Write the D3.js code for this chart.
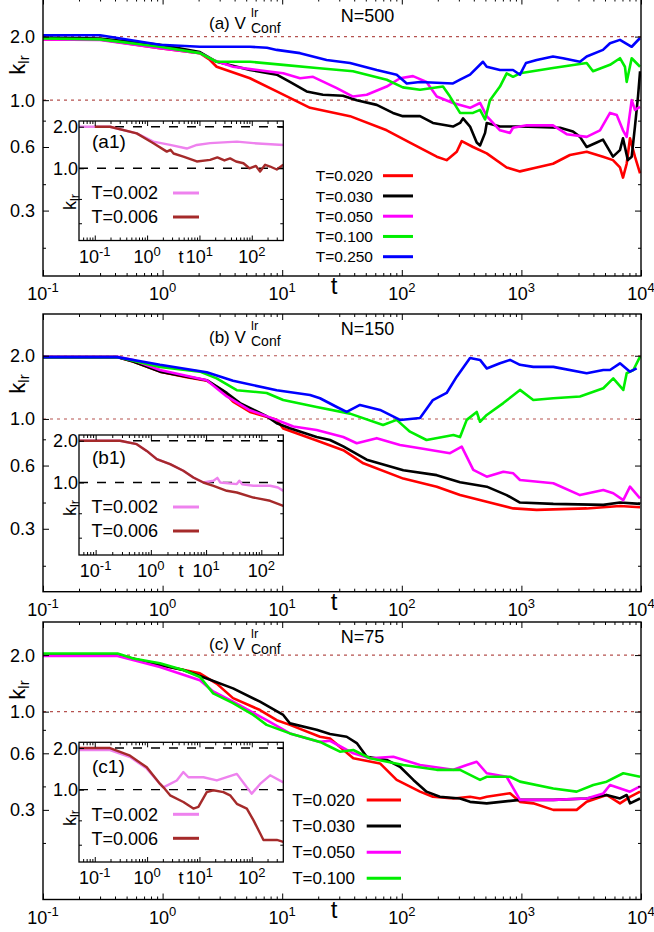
<!DOCTYPE html>
<html><head><meta charset="utf-8">
<script src="https://cdn.jsdelivr.net/npm/d3@7"></script>
<style>body{margin:0;background:#fff}svg{display:block}text{font-family:"Liberation Sans",Arial,Helvetica,sans-serif;fill:#000}</style>
</head><body>
<script>
// ---------------- DATA ----------------
const tempsAB = ["T=0.020","T=0.030","T=0.050","T=0.100","T=0.250"];
const tempsC  = ["T=0.020","T=0.030","T=0.050","T=0.100"];
const tempsInset = ["T=0.002","T=0.006"];
const panelTags = ["(a)","(b)","(c)"];
const insetTags = ["(a1)","(b1)","(c1)"];
const sizeLabels = ["N=500","N=150","N=75"];
const xTickVals = [0.1,1,10,100,1000,10000];
const xTickExp  = ["-1","0","1","2","3","4"];
const insetXTickVals = [0.1,1,10,100];
const insetXTickExp  = ["-1","0","1","2"];
const yTickVals = [0.3,0.6,1.0,2.0];
const yTickText = ["0.3","0.6","1.0","2.0"];
const yMinorVals = [0.2,0.4,0.8];
const insetYTickVals = [1.0,2.0];
const insetYTickText = ["1.0","2.0"];
const insetYMinorVals = [0.4,0.6];
const refLevels = [1.0,2.0];

// panel (a) N=500
const a_T020 = [[0.1,1.94],[0.3,1.94],[0.95,1.76],[2.05,1.67],[2.49,1.55],[2.83,1.44],[5.38,1.27],[9.0,1.10],[17.1,0.92],[36.9,0.84],[74.8,0.72],[117,0.63],[196,0.54],[237,0.52],[288,0.57],[317,0.64],[394,0.60],[513,0.56],[753,0.48],[973,0.46],[1342,0.48],[1837,0.50],[2546,0.55],[3515,0.57],[4810,0.54],[5830,0.52],[6670,0.48],[7070,0.43],[7590,0.50],[8090,0.66],[8900,0.54],[9820,0.45]];
const a_T030 = [[0.1,1.98],[0.3,1.96],[0.95,1.83],[2.05,1.69],[2.83,1.52],[5.38,1.39],[9.0,1.32],[11.6,1.22],[16.0,1.10],[21.9,1.06],[32.2,1.05],[42.0,1.0],[61.7,0.95],[84.3,0.87],[102,0.84],[142,0.84],[182,0.78],[268,0.75],[307,0.78],[325,0.82],[372,0.75],[423,0.63],[451,0.61],[497,0.70],[513,0.78],[662,0.75],[973,0.75],[2105,0.74],[2700,0.71],[3090,0.67],[3515,0.60],[4265,0.63],[4810,0.65],[5830,0.54],[6670,0.58],[7070,0.66],[7760,0.52],[8360,0.54],[8900,0.75],[9440,1.04],[9820,1.37]];
const a_T050 = [[0.1,1.94],[0.3,1.93],[0.95,1.76],[2.05,1.67],[2.64,1.55],[3.88,1.44],[7.46,1.37],[10.2,1.34],[14.1,1.27],[18.1,1.29],[28.6,1.14],[39.1,1.04],[50.9,1.06],[74.8,1.16],[96.6,1.27],[124,1.30],[161,1.22],[196,1.04],[268,0.97],[372,0.92],[451,0.97],[513,0.84],[662,0.72],[803,0.70],[851,0.74],[1107,0.76],[1837,0.76],[2393,0.69],[3515,0.67],[4540,0.72],[5506,0.87],[6270,0.85],[7070,0.72],[7590,0.67],[8360,1.0],[8900,0.90],[9820,0.93]];
const a_T100 = [[0.1,1.96],[0.3,1.94],[0.95,1.79],[2.05,1.67],[2.83,1.52],[5.38,1.52],[10.2,1.47],[19.4,1.42],[39.1,1.37],[74.8,1.25],[102,1.15],[142,1.12],[221,1.16],[253,1.04],[307,0.87],[394,0.87],[451,0.90],[497,0.81],[546,1.0],[662,1.16],[753,1.34],[851,1.29],[973,1.34],[1837,1.42],[3515,1.50],[3970,1.37],[5506,1.47],[6670,1.58],[7340,1.44],[7590,1.22],[8360,1.58],[9820,1.44]];
const a_T250 = [[0.1,2.03],[0.3,2.03],[0.95,1.83],[2.05,1.79],[3.88,1.79],[5.38,1.79],[7.46,1.77],[9.0,1.73],[14.1,1.67],[23.5,1.55],[36.9,1.50],[61.7,1.39],[90.6,1.32],[110,1.20],[142,1.22],[268,1.20],[307,1.25],[372,1.32],[477,1.52],[513,1.44],[662,1.39],[851,1.39],[973,1.32],[1092,1.50],[1342,1.55],[1837,1.61],[2228,1.58],[3090,1.52],[3515,1.61],[4810,1.73],[5506,1.86],[6670,1.93],[8360,1.79],[9820,1.97]];

// panel (b) N=150
const b_T020 = [[0.1,1.97],[0.416,1.97],[0.566,1.875],[0.95,1.68],[1.59,1.58],[2.34,1.52],[3.2,1.36],[3.88,1.21],[5.38,1.08],[9.0,0.99],[10.2,0.90],[19.4,0.79],[32.4,0.71],[47.7,0.615],[103,0.52],[196,0.476],[307,0.434],[513,0.403],[855,0.375],[1342,0.369],[3515,0.375],[6670,0.385],[9820,0.38]];
const b_T030 = [[0.1,1.97],[0.416,1.97],[0.566,1.875],[0.95,1.68],[1.59,1.59],[2.34,1.53],[3.44,1.33],[4.44,1.19],[7.41,1.03],[9.0,0.954],[11.6,0.903],[19.4,0.82],[25.1,0.794],[32.4,0.74],[50.9,0.64],[103,0.57],[196,0.54],[307,0.50],[513,0.476],[753,0.434],[973,0.40],[1848,0.394],[4840,0.39],[6670,0.40],[9820,0.394]];
const b_T050 = [[0.1,1.98],[0.416,1.98],[0.566,1.91],[0.95,1.71],[2.34,1.53],[3.44,1.28],[5.38,1.10],[9.0,0.99],[12.4,0.92],[19.4,0.886],[32.4,0.82],[42.0,0.766],[61.7,0.81],[96.6,0.752],[142,0.725],[253,0.687],[317,0.738],[396,0.572],[513,0.531],[706,0.561],[855,0.551],[973,0.512],[1848,0.494],[3090,0.434],[4840,0.459],[5860,0.443],[7110,0.411],[8090,0.476],[9820,0.419]];
const b_T100 = [[0.1,1.97],[0.416,1.97],[0.95,1.77],[2.05,1.68],[2.83,1.56],[4.17,1.37],[7.41,1.33],[10.2,1.23],[19.4,1.14],[36.9,1.06],[69.7,0.936],[90.6,0.99],[117,0.87],[161,0.794],[270,0.839],[307,0.82],[349,0.99],[423,1.08],[451,0.97],[513,1.045],[706,1.19],[973,1.375],[1257,1.23],[1848,1.255],[3090,1.28],[4840,1.40],[5860,1.56],[7110,1.375],[7590,1.65],[8630,1.71],[9820,1.98]];
const b_T250 = [[0.1,1.97],[0.416,1.97],[0.95,1.81],[2.34,1.67],[3.88,1.52],[9.0,1.37],[17.1,1.30],[20.7,1.255],[28.6,1.14],[34.6,1.08],[44.7,1.166],[65.8,1.104],[96.6,0.989],[142,1.01],[182,1.23],[237,1.33],[288,1.59],[372,1.95],[451,1.91],[513,1.74],[662,1.84],[803,1.91],[973,1.81],[1257,1.77],[1848,1.77],[3515,1.65],[4840,1.71],[5506,1.71],[6670,1.84],[8090,1.68],[9200,1.74]];

// panel (c) N=75
const c_T020 = [[0.1,2.0],[0.42,2.0],[0.95,1.77],[2.05,1.60],[2.83,1.41],[3.88,1.18],[6.52,1.02],[9.0,0.90],[11.6,0.85],[20.7,0.735],[25.1,0.72],[39.3,0.565],[65.8,0.53],[90.6,0.433],[142,0.375],[182,0.352],[270,0.345],[372,0.352],[451,0.345],[513,0.352],[803,0.368],[973,0.331],[1257,0.325],[1848,0.30],[2897,0.30],[3515,0.331],[5160,0.36],[6670,0.325],[8090,0.352],[9820,0.375]];
const c_T030 = [[0.1,2.0],[0.42,2.0],[0.95,1.77],[1.49,1.665],[2.34,1.50],[3.88,1.33],[6.52,1.13],[10.2,0.96],[11.6,0.866],[19.4,0.80],[25.1,0.76],[34.6,0.735],[42.0,0.68],[50.9,0.575],[74.8,0.553],[96.6,0.509],[125,0.433],[161,0.375],[208,0.352],[307,0.345],[372,0.331],[513,0.325],[973,0.339],[1848,0.339],[3515,0.345],[5160,0.36],[6670,0.345],[7590,0.36],[8090,0.325],[9820,0.345]];
const c_T050 = [[0.1,1.98],[0.42,1.98],[0.95,1.73],[2.05,1.47],[2.65,1.28],[3.88,1.13],[7.41,0.90],[11.6,0.766],[20.7,0.69],[25.1,0.70],[39.3,0.60],[54.2,0.565],[84.9,0.575],[142,0.52],[270,0.49],[349,0.52],[423,0.541],[513,0.47],[753,0.45],[973,0.339],[1848,0.339],[3515,0.345],[4840,0.367],[5506,0.407],[8090,0.375],[9820,0.40]];
const c_T100 = [[0.1,2.04],[0.42,2.04],[0.569,1.92],[0.95,1.81],[1.49,1.665],[2.05,1.53],[2.65,1.25],[3.88,1.11],[5.73,0.96],[7.41,0.85],[11.6,0.766],[20.7,0.69],[25.1,0.65],[30.4,0.612],[39.3,0.625],[54.2,0.565],[103,0.52],[196,0.49],[307,0.49],[451,0.433],[513,0.45],[803,0.45],[973,0.424],[1848,0.39],[2897,0.375],[3990,0.407],[5160,0.424],[7110,0.47],[9820,0.45]];

// insets
const ia_T002 = [[0.05,2.0],[0.196,2.0],[0.634,1.79],[1.32,1.56],[2.75,1.476],[5.73,1.39],[8.9,1.476],[16.0,1.52],[51.8,1.56],[108,1.52],[400,1.476]];
const ia_T006 = [[0.1,2.0],[0.196,2.0],[0.634,1.79],[1.32,1.52],[2.38,1.32],[2.8,1.36],[3.2,1.28],[4.93,1.215],[8.9,1.12],[16.0,1.15],[22,1.2],[30,1.14],[38.5,1.18],[50,1.12],[69.3,1.087],[90,1.0],[120,1.04],[144,0.947],[180,1.06],[224,1.03],[300,0.98],[400,1.06]];
const ib_T002 = [[0.05,2.0],[0.277,2.0],[0.555,1.89],[0.842,1.69],[1.28,1.475],[2.23,1.357],[3.87,1.215],[5.89,1.087],[8.93,1.0],[13.6,1.03],[16,1.08],[18,1.0],[36.0,0.974],[40,1.03],[45,0.97],[71.9,0.947],[144,0.947],[200,0.92],[250,0.87]];
const ib_T006 = [[0.05,2.0],[0.277,2.0],[0.555,1.89],[0.842,1.69],[1.28,1.475],[2.23,1.357],[3.87,1.215],[5.89,1.087],[8.93,1.0],[13.6,0.947],[23.7,0.871],[36.0,0.847],[71.9,0.779],[144,0.738],[250,0.679]];
const ic_T002 = [[0.05,1.935],[0.196,1.935],[0.472,1.72],[0.985,1.42],[1.77,1.10],[2.05,1.04],[2.38,1.07],[3.69,1.166],[4.93,1.34],[6.15,1.23],[11.9,1.23],[21.5,1.166],[51.8,1.30],[80.4,1.04],[100,0.936],[144,1.10],[224,1.27],[400,1.13]];
const ic_T006 = [[0.05,2.0],[0.196,2.0],[0.472,1.76],[0.985,1.45],[1.77,1.10],[2.05,1.04],[2.75,0.91],[4.93,0.815],[7.66,0.73],[9.55,0.75],[13.8,0.96],[18.5,0.99],[28.7,0.96],[38.5,0.91],[51.8,0.79],[80.4,0.73],[108,0.60],[144,0.484],[167,0.433],[301,0.433],[400,0.42]];

// ---------------- STYLE / LAYOUT ----------------
const mainColors = ["#ff0000","#000000","#ff00ff","#00ee00","#0000ff"];
const insetColors = ["#ee82ee","#a52a2a"];
const W = 654, H = 932;
const svg = d3.select("body").append("svg").attr("width",W).attr("height",H);
svg.append("rect").attr("width",W).attr("height",H).attr("fill","#fff");

const panels = [
  {box:{x0:43,x1:641,y0:-1.5,y1:276}, ydom:[0.147,3.03], series:[a_T020,a_T030,a_T050,a_T100,a_T250], names:tempsAB,
   titleY:29.3, nY:21.7, kY:65, legend:{tx:373,lx0:383,lx1:413,y0:175.7,dy:20.25,fs:15.5},
   inset:{box:{x0:79,x1:283.3,y0:121,y1:240.5}, xdom:[0.05,400], series:[ia_T002,ia_T006], tagY:147.7, kY:202}},
  {box:{x0:43,x1:641,y0:314,y1:591.7}, ydom:[0.1505,3.16], series:[b_T020,b_T030,b_T050,b_T100,b_T250], names:tempsAB,
   titleY:342.7, nY:335, kY:384, legend:null,
   inset:{box:{x0:79,x1:283.3,y0:435,y1:555}, xdom:[0.05,250], series:[ib_T002,ib_T006], tagY:464.3, kY:508}},
  {box:{x0:43,x1:641,y0:622,y1:899.5}, ydom:[0.1,3.0], series:[c_T020,c_T030,c_T050,c_T100], names:tempsC,
   titleY:650, nY:643.3, kY:690, legend:{tx:355,lx0:366.7,lx1:401,y0:800,dy:26.1,fs:17},
   inset:{box:{x0:79,x1:283.3,y0:742.3,y1:862}, xdom:[0.05,400], series:[ic_T002,ic_T006], tagY:772.7, kY:818}}
];

function minorLog(dom){
  const out=[];
  for(let e=-2;e<=4;e++){const d=Math.pow(10,e);for(let m=2;m<=9;m++){const v=d*m;if(v>dom[0]*1.0001&&v<dom[1]*0.9999)out.push(v);}}
  return out;
}
function tickSet(g,x,y,b,xMaj,xMin,yMaj,yMin,majLen,minLen){
  const mk=(fn,scale,vals,len,tr)=>{
    const a=g.append("g").attr("transform",tr).call(fn(scale).tickValues(vals).tickSize(-len).tickSizeOuter(0).tickFormat(""));
    a.select(".domain").remove();
    a.selectAll("line").attr("stroke","#000").attr("stroke-width",1);
  };
  mk(d3.axisBottom,x,xMaj,majLen,`translate(0,${b.y1})`);
  mk(d3.axisTop,x,xMaj,majLen,`translate(0,${b.y0})`);
  mk(d3.axisBottom,x,xMin,minLen,`translate(0,${b.y1})`);
  mk(d3.axisTop,x,xMin,minLen,`translate(0,${b.y0})`);
  mk(d3.axisLeft,y,yMaj,majLen,`translate(${b.x0},0)`);
  mk(d3.axisRight,y,yMaj,majLen,`translate(${b.x1},0)`);
  mk(d3.axisLeft,y,yMin,minLen,`translate(${b.x0},0)`);
  mk(d3.axisRight,y,yMin,minLen,`translate(${b.x1},0)`);
}
function expLabel(g,xp,yp,exp,fs,sfs,rise){
  const t=g.append("text").attr("x",xp).attr("y",yp).attr("text-anchor","middle").attr("font-size",fs);
  t.append("tspan").text("10");
  t.append("tspan").attr("dy",-rise).attr("font-size",sfs).text(exp);
}
let clipN=0;
function clip(b){
  const id="cl"+(clipN++);
  svg.append("clipPath").attr("id",id).append("rect").attr("x",b.x0).attr("y",b.y0).attr("width",b.x1-b.x0).attr("height",b.y1-b.y0);
  return `url(#${id})`;
}

panels.forEach((P,pi)=>{
  const b=P.box;
  const x=d3.scaleLog().domain([0.1,10000]).range([b.x0,b.x1]);
  const y=d3.scaleLog().domain(P.ydom).range([b.y1,b.y0]);
  const g=svg.append("g");
  const cp=clip(b);
  refLevels.forEach(v=>g.append("line").attr("x1",b.x0).attr("x2",b.x1).attr("y1",y(v)).attr("y2",y(v))
    .attr("stroke","#b5524f").attr("stroke-width",1.1).attr("stroke-dasharray","3,4"));
  const line=d3.line().x(d=>x(d[0])).y(d=>y(d[1]));
  const cg=g.append("g").attr("clip-path",cp);
  P.series.forEach((s,i)=>cg.append("path").attr("d",line(s)).attr("fill","none").attr("stroke",mainColors[i])
    .attr("stroke-width",2.6).attr("stroke-linejoin","round"));
  tickSet(g,x,y,b,xTickVals,minorLog([0.1,10000]),yTickVals,yMinorVals,6,3);
  g.append("rect").attr("x",b.x0).attr("y",b.y0).attr("width",b.x1-b.x0).attr("height",b.y1-b.y0)
    .attr("fill","none").attr("stroke","#000").attr("stroke-width",1.4);
  yTickVals.forEach((v,i)=>g.append("text").attr("x",b.x0-8).attr("y",y(v)).attr("dy","0.36em")
    .attr("text-anchor","end").attr("font-size",18).text(yTickText[i]));
  xTickVals.forEach((v,i)=>expLabel(g,x(v),b.y1+24,xTickExp[i],18,13,8));
  g.append("text").attr("x",334).attr("y",b.y1+18).attr("text-anchor","middle").attr("font-size",24).text("t");
  const kl=g.append("text").attr("transform",`translate(25,${P.kY}) rotate(-90)`).attr("text-anchor","middle");
  kl.append("tspan").attr("font-size",22).text("k");
  kl.append("tspan").attr("font-size",15).attr("dy",4).text("lr");
  // title with stacked super/subscript
  const tt=g.append("text").attr("x",209).attr("y",P.titleY).attr("font-size",17);
  tt.append("tspan").text(panelTags[pi]+" V");
  tt.append("tspan").attr("x",251).attr("dy",-12.5).attr("font-size",13).text("lr");
  tt.append("tspan").attr("x",251).attr("dy",16).attr("font-size",14).text("Conf");
  g.append("text").attr("x",340.7).attr("y",P.nY).attr("font-size",18).text(sizeLabels[pi]);
  if(P.legend){
    const L=P.legend;
    P.names.forEach((n,i)=>{
      const yy=L.y0+i*L.dy;
      g.append("text").attr("x",L.tx).attr("y",yy).attr("dy","0.36em").attr("text-anchor","end").attr("font-size",L.fs).text(n);
      g.append("line").attr("x1",L.lx0).attr("x2",L.lx1).attr("y1",yy).attr("y2",yy).attr("stroke",mainColors[i]).attr("stroke-width",3);
    });
  }
  // ---------- inset ----------
  const I=P.inset, ib=I.box;
  const xi=d3.scaleLog().domain(I.xdom).range([ib.x0,ib.x1]);
  const yi=d3.scaleLog().domain([0.3,2.2]).range([ib.y1,ib.y0]);
  const gi=svg.append("g");
  gi.append("rect").attr("x",ib.x0).attr("y",ib.y0).attr("width",ib.x1-ib.x0).attr("height",ib.y1-ib.y0).attr("fill","#fff");
  const cpi=clip(ib);
  refLevels.forEach(v=>gi.append("line").attr("x1",ib.x0).attr("x2",ib.x1).attr("y1",yi(v)).attr("y2",yi(v))
    .attr("stroke","#000").attr("stroke-width",1.4).attr("stroke-dasharray","9,9"));
  const li=d3.line().x(d=>xi(d[0])).y(d=>yi(d[1]));
  const ci=gi.append("g").attr("clip-path",cpi);
  I.series.forEach((s,i)=>ci.append("path").attr("d",li(s)).attr("fill","none").attr("stroke",insetColors[i])
    .attr("stroke-width",2.4).attr("stroke-linejoin","round"));
  tickSet(gi,xi,yi,ib,insetXTickVals,minorLog(I.xdom),insetYTickVals,insetYMinorVals,5,3);
  gi.append("rect").attr("x",ib.x0).attr("y",ib.y0).attr("width",ib.x1-ib.x0).attr("height",ib.y1-ib.y0)
    .attr("fill","none").attr("stroke","#000").attr("stroke-width",1.3);
  insetYTickVals.forEach((v,i)=>gi.append("text").attr("x",ib.x0-1).attr("y",yi(v)).attr("dy","0.36em")
    .attr("text-anchor","end").attr("font-size",18).text(insetYTickText[i]));
  insetXTickVals.forEach((v,i)=>expLabel(gi,xi(v),ib.y1+22,insetXTickExp[i],18,13,7));
  gi.append("text").attr("x",181).attr("y",ib.y1+22).attr("text-anchor","middle").attr("font-size",18).text("t");
  const ki=gi.append("text").attr("transform",`translate(76,${I.kY}) rotate(-90)`).attr("text-anchor","middle");
  ki.append("tspan").attr("font-size",18).text("k");
  ki.append("tspan").attr("font-size",13).attr("dy",3).text("lr");
  gi.append("text").attr("x",92).attr("y",I.tagY).attr("font-size",19).text(insetTags[pi]);
  tempsInset.forEach((n,i)=>{
    const yy=ib.y0+72+i*24;
    gi.append("text").attr("x",158).attr("y",yy).attr("dy","0.36em").attr("text-anchor","end").attr("font-size",18).text(n);
    gi.append("line").attr("x1",173).attr("x2",199).attr("y1",yy).attr("y2",yy).attr("stroke",insetColors[i]).attr("stroke-width",3);
  });
});
</script>
</body></html>
